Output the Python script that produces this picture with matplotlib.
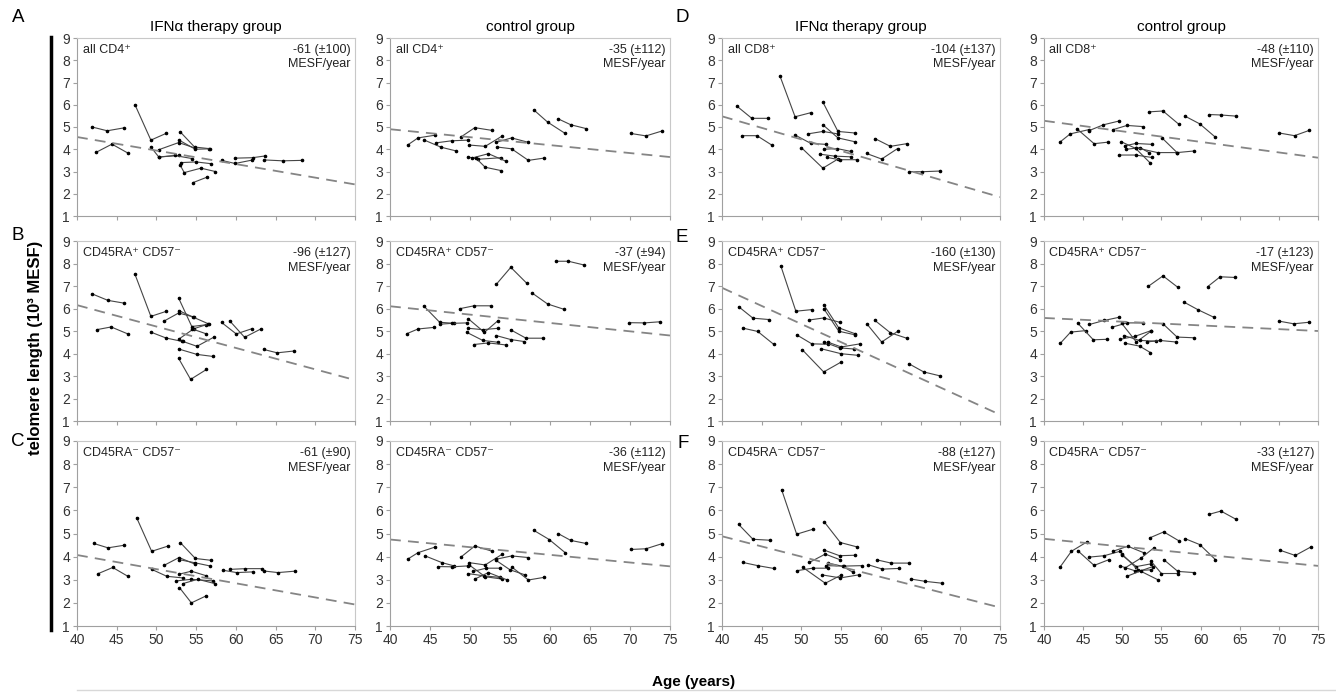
import matplotlib.pyplot as plt
from matplotlib.lines import Line2D

plt.rcParams['font.family'] = ['Liberation Sans', 'DejaVu Sans']

# each donor: list of (age in years, telomere length in 10^3 MESF)
cd4_ifn_all = [
    [(41.9, 5.0), (43.8, 4.83), (45.9, 4.96)],
    [(42.4, 3.86), (44.4, 4.23), (46.4, 3.83)],
    [(47.3, 6.0), (49.3, 4.41), (51.2, 4.71)],
    [(49.3, 4.1), (50.3, 3.65), (52.8, 3.72)],
    [(50.3, 3.98), (52.8, 4.3), (54.9, 4.05)],
    [(53.0, 4.78), (54.8, 4.1), (56.6, 4.03)],
    [(52.9, 4.4), (54.9, 4.0), (56.8, 4.02)],
    [(53.1, 3.4), (55.0, 3.43), (56.9, 3.35)],
    [(53.0, 3.28), (53.5, 2.95), (55.6, 3.15), (57.4, 3.0)],
    [(54.6, 2.5), (56.4, 2.75)],
    [(50.3, 3.65), (52.3, 3.72), (54.5, 3.58)],
    [(58.2, 3.5), (59.9, 3.36), (62.0, 3.51)],
    [(59.9, 3.6), (62.1, 3.62), (63.7, 3.7)],
    [(63.6, 3.52), (65.9, 3.48), (68.3, 3.5)],
]
cd4_ctrl_all = [
    [(42.2, 4.19), (43.5, 4.51), (45.6, 4.63)],
    [(44.3, 4.41), (46.4, 4.09), (48.2, 3.93)],
    [(45.8, 4.29), (47.7, 4.38), (49.7, 4.41)],
    [(48.9, 4.56), (50.6, 4.97), (52.7, 4.85)],
    [(49.9, 4.19), (51.9, 4.13), (54.0, 4.59)],
    [(53.25, 4.31), (55.2, 4.51), (57.3, 4.31)],
    [(53.4, 4.1), (55.2, 4.02), (57.3, 3.5), (59.2, 3.6)],
    [(49.7, 3.66), (51.0, 3.55), (53.9, 3.62)],
    [(50.2, 3.6), (52.3, 3.8), (54.5, 3.46)],
    [(50.75, 3.6), (51.9, 3.19), (53.9, 3.04)],
    [(58.0, 5.76), (59.7, 5.22), (61.9, 4.71)],
    [(61.0, 5.37), (62.6, 5.1), (64.5, 4.93)],
    [(70.1, 4.71), (72.0, 4.6), (74.0, 4.82)],
]
cd8_ifn_all = [
    [(41.9, 5.93), (43.75, 5.39), (45.8, 5.39)],
    [(42.5, 4.61), (44.4, 4.61), (46.3, 4.18)],
    [(47.3, 7.29), (49.2, 5.46), (51.25, 5.65)],
    [(49.25, 4.63), (51.2, 4.26), (53.1, 4.22)],
    [(50.0, 4.07), (52.7, 3.15), (54.6, 3.56)],
    [(50.8, 4.69), (52.7, 4.8), (54.6, 4.69)],
    [(52.7, 6.12), (54.6, 4.8), (56.75, 4.73)],
    [(52.7, 5.1), (54.6, 4.51), (56.7, 4.34)],
    [(52.8, 4.0), (54.5, 4.03), (56.25, 3.9)],
    [(52.3, 3.78), (54.2, 3.69), (56.25, 3.66)],
    [(53.25, 3.63), (54.8, 3.53), (57.0, 3.53)],
    [(58.2, 3.81), (60.1, 3.56), (62.1, 4.03)],
    [(59.25, 4.48), (61.2, 4.13), (63.25, 4.25)],
    [(63.6, 2.99), (65.2, 2.99), (67.4, 3.02)],
]
cd8_ctrl_all = [
    [(42.1, 4.34), (43.35, 4.69), (45.7, 4.88)],
    [(44.2, 4.92), (46.4, 4.25), (48.2, 4.32)],
    [(45.7, 4.83), (47.6, 5.1), (49.6, 5.27)],
    [(48.8, 4.88), (50.6, 5.07), (52.6, 5.02)],
    [(49.6, 3.74), (51.7, 3.74), (53.8, 3.63)],
    [(49.85, 4.34), (51.7, 4.04), (53.6, 3.37)],
    [(50.3, 4.15), (51.7, 4.26), (53.8, 4.22)],
    [(50.5, 4.0), (52.3, 4.07), (53.4, 3.85)],
    [(51.7, 4.07), (54.5, 3.85), (57.0, 3.85), (59.1, 3.92)],
    [(53.4, 5.68), (55.2, 5.72), (57.2, 5.13)],
    [(55.1, 4.5), (57.0, 3.85)],
    [(58.0, 5.49), (59.9, 5.14), (61.9, 4.54)],
    [(61.1, 5.56), (62.6, 5.54), (64.5, 5.49)],
    [(70.05, 4.73), (72.0, 4.61), (73.9, 4.85)],
]

cd4_ifn_pos = [
    [(41.9, 6.65), (43.9, 6.36), (45.9, 6.24)],
    [(42.5, 5.06), (44.3, 5.18), (46.4, 4.87)],
    [(47.3, 7.52), (49.3, 5.65), (51.2, 5.87)],
    [(49.3, 4.95), (51.2, 4.69), (53.2, 4.54)],
    [(52.8, 4.2), (55.1, 3.96), (57.1, 3.87)],
    [(50.9, 5.43), (52.8, 5.8), (54.7, 5.62)],
    [(52.8, 6.46), (54.45, 5.2), (56.3, 5.28)],
    [(52.8, 5.91), (54.6, 5.62), (56.6, 5.31)],
    [(52.9, 4.66), (54.7, 5.1), (56.55, 5.31)],
    [(53.3, 4.54), (55.1, 4.32), (57.2, 4.72)],
    [(54.45, 5.1), (56.3, 4.87)],
    [(52.8, 3.78), (54.3, 2.85), (56.3, 3.29)],
    [(58.2, 5.38), (60.05, 4.87), (62.0, 5.1)],
    [(59.2, 5.46), (61.1, 4.72), (63.2, 5.1)],
    [(63.5, 4.18), (65.2, 4.03), (67.3, 4.11)],
]
cd4_ctrl_pos = [
    [(42.1, 4.88), (43.5, 5.09), (45.5, 5.16)],
    [(44.2, 6.12), (46.2, 5.39), (48.0, 5.34)],
    [(46.2, 5.3), (47.7, 5.34), (49.6, 5.36)],
    [(48.7, 5.99), (50.5, 6.12), (52.6, 6.12)],
    [(49.8, 5.54), (51.8, 4.94), (53.5, 5.46)],
    [(49.6, 4.94), (51.6, 4.58), (53.5, 4.5)],
    [(49.8, 5.12), (51.6, 5.06), (53.5, 5.12)],
    [(50.5, 4.4), (52.3, 4.47), (54.5, 4.38)],
    [(53.25, 4.8), (55.1, 4.62), (56.8, 4.53)],
    [(55.1, 5.05), (57.0, 4.68), (59.1, 4.68)],
    [(53.3, 7.08), (55.1, 7.83), (57.1, 7.12)],
    [(57.8, 6.68), (59.7, 6.2), (61.7, 5.97)],
    [(60.8, 8.1), (62.3, 8.1), (64.3, 7.93)],
    [(69.9, 5.37), (71.8, 5.36), (73.75, 5.41)],
]
cd8_ifn_pos = [
    [(42.1, 6.08), (43.9, 5.57), (45.9, 5.51)],
    [(42.6, 5.13), (44.5, 4.98), (46.5, 4.41)],
    [(47.4, 7.9), (49.3, 5.88), (51.3, 5.95)],
    [(49.4, 4.83), (51.3, 4.43), (53.3, 4.41)],
    [(52.9, 4.5), (54.8, 4.25), (56.6, 4.2)],
    [(50.1, 4.17), (52.8, 3.18), (55.0, 3.62)],
    [(51.0, 5.49), (52.8, 5.58), (54.8, 5.39)],
    [(52.8, 6.17), (54.7, 5.14), (56.75, 4.88)],
    [(52.8, 6.0), (54.7, 4.99), (56.75, 4.83)],
    [(52.5, 4.21), (55.0, 3.99), (57.1, 3.92)],
    [(53.3, 4.51), (55.0, 4.29), (57.4, 4.43)],
    [(58.3, 5.29), (60.1, 4.51), (62.1, 4.98)],
    [(59.25, 5.47), (61.2, 4.92), (63.25, 4.68)],
    [(63.5, 3.55), (65.4, 3.18), (67.4, 3.01)],
]
cd8_ctrl_pos = [
    [(42.1, 4.46), (43.4, 4.95), (45.4, 5.02)],
    [(44.3, 5.35), (46.3, 4.61), (48.0, 4.63)],
    [(45.8, 5.29), (47.7, 5.47), (49.6, 5.61)],
    [(48.7, 5.17), (50.6, 5.36), (52.6, 5.36)],
    [(49.7, 4.63), (51.6, 4.76), (53.7, 5.02)],
    [(49.9, 5.35), (51.8, 4.51), (53.7, 5.0)],
    [(50.3, 4.46), (52.2, 4.33), (53.6, 4.04)],
    [(50.2, 4.8), (52.2, 4.58), (54.3, 4.55)],
    [(53.1, 4.51), (54.8, 4.58), (56.9, 4.51)],
    [(53.3, 6.98), (55.2, 7.45), (57.1, 6.94)],
    [(55.2, 5.32), (57.0, 4.73), (59.1, 4.7)],
    [(57.9, 6.28), (59.7, 5.94), (61.7, 5.61)],
    [(60.9, 6.97), (62.5, 7.41), (64.4, 7.38)],
    [(70.0, 5.44), (71.9, 5.32), (73.9, 5.39)],
]

cd4_ifn_neg = [
    [(42.1, 4.57), (43.9, 4.38), (45.9, 4.49)],
    [(42.7, 3.27), (44.5, 3.53), (46.4, 3.15)],
    [(47.5, 5.69), (49.4, 4.23), (51.4, 4.45)],
    [(49.4, 3.45), (51.3, 3.15), (53.3, 3.08)],
    [(51.0, 3.63), (52.85, 3.96), (54.9, 3.67)],
    [(53.0, 4.61), (54.9, 3.92), (56.9, 3.84)],
    [(52.85, 3.87), (54.9, 3.73), (56.7, 3.6)],
    [(52.85, 3.24), (54.4, 3.37), (56.3, 3.17)],
    [(52.5, 2.95), (54.4, 3.02), (57.1, 2.95)],
    [(53.3, 2.83), (55.2, 3.02), (57.4, 2.83)],
    [(52.9, 2.66), (54.4, 2.0), (56.3, 2.31)],
    [(58.4, 3.41), (60.1, 3.31), (62.1, 3.34)],
    [(59.3, 3.45), (61.2, 3.48), (63.3, 3.48)],
    [(63.5, 3.38), (65.3, 3.31), (67.4, 3.37)],
]
cd4_ctrl_neg = [
    [(42.2, 3.89), (43.5, 4.17), (45.6, 4.41)],
    [(44.4, 4.03), (46.5, 3.74), (48.0, 3.6)],
    [(46.0, 3.57), (47.8, 3.56), (49.8, 3.6)],
    [(48.9, 3.99), (50.6, 4.46), (52.7, 4.24)],
    [(49.9, 3.74), (51.9, 3.64), (54.0, 4.1)],
    [(49.9, 3.64), (51.9, 3.13), (54.0, 3.03)],
    [(49.7, 3.27), (51.7, 3.17), (53.8, 3.1)],
    [(50.4, 3.36), (52.0, 3.5), (53.8, 3.5)],
    [(50.6, 3.03), (52.3, 3.31), (54.6, 3.0)],
    [(53.3, 3.89), (55.2, 4.03), (57.3, 3.96)],
    [(53.25, 3.84), (55.0, 3.43), (56.9, 3.21)],
    [(55.3, 3.53), (57.3, 2.99), (59.2, 3.1)],
    [(58.0, 5.13), (59.9, 4.74), (61.9, 4.17)],
    [(61.0, 5.0), (62.6, 4.7), (64.5, 4.57)],
    [(70.1, 4.31), (72.0, 4.34), (74.0, 4.56)],
]
cd8_ifn_neg = [
    [(42.1, 5.39), (43.9, 4.75), (46.0, 4.71)],
    [(42.6, 3.75), (44.5, 3.61), (46.5, 3.49)],
    [(47.5, 6.9), (49.4, 4.97), (51.4, 5.18)],
    [(49.4, 3.39), (51.4, 3.5), (53.4, 3.5)],
    [(50.2, 3.53), (53.0, 2.85), (55.0, 3.2)],
    [(51.0, 3.75), (53.0, 4.11), (54.9, 3.86)],
    [(52.9, 5.49), (54.9, 4.61), (57.0, 4.42)],
    [(52.8, 4.29), (54.8, 4.04), (56.8, 4.06)],
    [(52.6, 3.21), (54.9, 3.08), (57.2, 3.21)],
    [(53.4, 3.72), (55.2, 3.58), (56.5, 3.32)],
    [(53.1, 3.61), (55.3, 3.59), (57.6, 3.61)],
    [(58.4, 3.65), (60.2, 3.46), (62.3, 3.49)],
    [(59.5, 3.86), (61.3, 3.72), (63.5, 3.72)],
    [(63.8, 3.03), (65.6, 2.93), (67.7, 2.85)],
]
cd8_ctrl_neg = [
    [(42.1, 3.57), (43.5, 4.23), (45.5, 4.64)],
    [(44.3, 4.26), (46.4, 3.62), (48.3, 3.87)],
    [(45.8, 3.98), (47.7, 4.04), (49.7, 4.23)],
    [(48.8, 4.23), (50.7, 4.45), (52.8, 4.16)],
    [(49.9, 4.08), (51.8, 3.57), (53.7, 3.69)],
    [(49.7, 3.6), (51.6, 3.39), (53.7, 3.43)],
    [(50.0, 4.1), (52.0, 3.43), (54.6, 2.99)],
    [(50.6, 3.15), (52.4, 3.39), (53.9, 3.57)],
    [(50.3, 3.5), (52.4, 3.94), (54.0, 4.37)],
    [(53.5, 4.81), (55.3, 5.07), (57.3, 4.67)],
    [(55.3, 3.87), (57.1, 3.36), (59.2, 3.31)],
    [(53.7, 3.79), (55.0, 3.27), (57.1, 3.27)],
    [(58.0, 4.78), (59.9, 4.52), (61.9, 3.87)],
    [(61.1, 5.83), (62.6, 5.97), (64.55, 5.61)],
    [(70.2, 4.27), (72.1, 4.05), (74.1, 4.42)],
]

# regression line value at age 40 and at age 75
fit_start = [[4.55, 4.9, 5.48, 5.28], [6.15, 6.1, 6.92, 5.58], [4.07, 4.74, 4.88, 4.77]]
fit_end = [[2.42, 3.65, 1.85, 3.62], [2.82, 4.8, 1.28, 5.0], [1.93, 3.58, 1.8, 3.6]]
slopes = [["-61 (±100)", "-35 (±112)", "-104 (±137)", "-48 (±110)"],
          ["-96 (±127)", "-37 (±94)", "-160 (±130)", "-17 (±123)"],
          ["-61 (±90)", "-36 (±112)", "-88 (±127)", "-33 (±127)"]]
subsets = [["all CD4⁺", "all CD4⁺", "all CD8⁺", "all CD8⁺"],
           ["CD45RA⁺ CD57⁻"] * 4,
           ["CD45RA⁻ CD57⁻"] * 4]
groups = ["IFNα therapy group", "control group", "IFNα therapy group", "control group"]
panels = [[cd4_ifn_all, cd4_ctrl_all, cd8_ifn_all, cd8_ctrl_all],
          [cd4_ifn_pos, cd4_ctrl_pos, cd8_ifn_pos, cd8_ctrl_pos],
          [cd4_ifn_neg, cd4_ctrl_neg, cd8_ifn_neg, cd8_ctrl_neg]]

W, H = 1336, 693
fig = plt.figure(figsize=(W / 100, H / 100), dpi=100)

col_x = [(77, 355), (390, 670), (722, 1000), (1044, 1318)]
row_y = [(38, 216), (241, 421), (441, 626)]

for r in range(3):
    for c in range(4):
        x0, x1 = col_x[c]
        y0, y1 = row_y[r]
        ax = fig.add_axes([x0 / W, 1 - y1 / H, (x1 - x0) / W, (y1 - y0) / H])
        for donor in panels[r][c]:
            ages = [p[0] for p in donor]
            vals = [p[1] for p in donor]
            ax.plot(ages, vals, color='#454545', lw=0.8, marker='o', ms=1.6,
                    mfc='black', mec='black')
        ax.plot([40, 75], [fit_start[r][c], fit_end[r][c]], color='#858585',
                lw=1.3, dashes=(6, 4))
        ax.set_xlim(40, 75)
        ax.set_ylim(1, 9)
        ax.set_xticks(range(40, 76, 5))
        ax.set_yticks(range(1, 10))
        for side in ['left', 'bottom']:
            ax.spines[side].set_color('#a0a0a0')
        for side in ['top', 'right']:
            ax.spines[side].set_color('#c8c8c8')
        ax.tick_params(direction='out', length=3, color='#a0a0a0', labelsize=10,
                       labelcolor='#333333', pad=2)
        if r < 2:
            ax.tick_params(labelbottom=False)
        ax.text(0.02, 0.965, subsets[r][c], transform=ax.transAxes, ha='left',
                va='top', fontsize=9, color='#222222')
        ax.text(0.985, 0.965, slopes[r][c] + "\nMESF/year", transform=ax.transAxes,
                ha='right', va='top', fontsize=9, color='#222222', linespacing=1.25)

for c in range(4):
    x0, x1 = col_x[c]
    fig.text((x0 + x1) / 2 / W, 1 - 27 / H, groups[c], ha='center', va='center',
             fontsize=11)

letters = [("A", 18, 17), ("B", 18, 236), ("C", 18, 442),
           ("D", 682, 17), ("E", 682, 237), ("F", 683, 443)]
for lab, lx, ly in letters:
    fig.text(lx / W, 1 - ly / H, lab, ha='center', va='center', fontsize=13.5)

fig.text(36 / W, 1 - 348 / H, "telomere length (10³ MESF)", rotation=90,
         ha='center', va='center', fontsize=12, fontweight='bold')
fig.text(694 / W, 1 - 682 / H, "Age (years)", ha='center', va='center',
         fontsize=11, fontweight='bold')

fig.add_artist(Line2D([51 / W, 51 / W], [1 - 37 / H, 1 - 630 / H], color='black',
                      lw=2.5, transform=fig.transFigure))
fig.add_artist(Line2D([77 / W, 1.0], [1 - 690 / H, 1 - 690 / H], color='#d8d8d8',
                      lw=1, transform=fig.transFigure))

fig.savefig('out.png', dpi=100)
